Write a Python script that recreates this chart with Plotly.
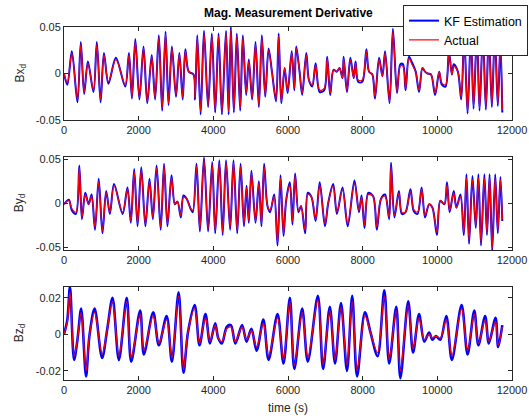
import plotly.graph_objects as go

# ---------------- data ----------------
bx_t = [0, 90, 210, 360, 450, 540, 640, 790, 880, 980,
        1070, 1190, 1390, 1640, 1740, 1820, 1910, 2020, 2130, 2230,
        2350, 2440, 2540, 2630, 2720, 2800, 2890, 3000, 3090, 3180,
        3250, 3340, 3470, 3510, 3570, 3660, 3750, 3860, 3960, 4050,
        4140, 4230, 4340, 4410, 4470, 4550, 4630, 4720, 4790, 4880,
        4950, 5040, 5130, 5220, 5300, 5390, 5480, 5570, 5680, 5750,
        5820, 5910, 5990, 6100, 6170, 6220, 6310, 6380, 6490, 6560,
        6650, 6740, 6850, 6970, 7050, 7130, 7220, 7310, 7380, 7460,
        7490, 7580, 7670, 7760, 7810, 7880, 7990, 8100, 8170, 8260,
        8330, 8440, 8530, 8600, 8720, 8810, 8920, 9010, 9080, 9150,
        9240, 9330, 9420, 9510, 9600, 9670, 9740, 9830, 9940, 10050,
        10120, 10220, 10310, 10390, 10440, 10550, 10640, 10720, 10810, 10900,
        10970, 11060, 11130, 11220, 11300, 11380, 11460, 11540, 11620, 11690,
        11740]
bx_actual = [0.000, -0.010, 0.022, -0.028, 0.031, -0.020, 0.011, -0.018, 0.031, -0.028,
             0.020, -0.009, 0.015, -0.012, 0.020, -0.025, 0.034, -0.026, 0.027, -0.030,
             0.018, -0.026, 0.038, -0.037, 0.042, -0.032, 0.027, -0.023, 0.020, -0.026,
             0.024, 0.002, -0.001, -0.026, 0.038, -0.041, 0.043, -0.034, 0.040, -0.039,
             0.040, -0.041, 0.043, -0.041, 0.047, -0.039, 0.040, -0.037, 0.038, -0.021,
             0.013, -0.026, 0.031, -0.034, 0.038, -0.023, 0.025, 0.002, -0.028, 0.040,
             -0.030, 0.006, -0.019, 0.022, -0.016, 0.027, 0.002, -0.021, 0.020, -0.007,
             -0.012, 0.009, -0.018, -0.016, 0.016, -0.021, 0.004, 0.002, 0.006, -0.005,
             0.016, -0.018, 0.015, -0.005, 0.011, -0.007, -0.007, 0.024, 0.002, -0.001,
             -0.025, 0.015, -0.003, 0.022, -0.030, 0.045, -0.019, 0.008, 0.008, -0.016,
             0.016, 0.009, 0.002, -0.018, 0.006, 0.002, 0.000, -0.001, -0.021, 0.002,
             -0.010, -0.012, 0.022, -0.001, 0.008, 0.002, -0.026, 0.038, -0.040, 0.040,
             -0.035, 0.042, -0.037, 0.040, -0.036, 0.041, -0.033, 0.040, -0.032, 0.030,
             -0.039]
bx_kf = [0.000, -0.012, 0.024, -0.031, 0.034, -0.022, 0.013, -0.020, 0.034, -0.031,
         0.022, -0.011, 0.017, -0.014, 0.022, -0.027, 0.037, -0.028, 0.029, -0.032,
         0.020, -0.028, 0.041, -0.040, 0.045, -0.034, 0.029, -0.025, 0.022, -0.028,
         0.026, 0.002, -0.001, -0.028, 0.041, -0.044, 0.046, -0.036, 0.043, -0.042,
         0.043, -0.044, 0.046, -0.044, 0.050, -0.042, 0.043, -0.040, 0.041, -0.023,
         0.015, -0.028, 0.034, -0.036, 0.041, -0.025, 0.027, 0.002, -0.030, 0.043,
         -0.032, 0.006, -0.021, 0.024, -0.018, 0.029, 0.002, -0.023, 0.022, -0.007,
         -0.014, 0.011, -0.020, -0.018, 0.018, -0.023, 0.004, 0.002, 0.006, -0.005,
         0.018, -0.020, 0.017, -0.005, 0.013, -0.009, -0.009, 0.026, 0.002, -0.001,
         -0.027, 0.017, -0.003, 0.024, -0.032, 0.048, -0.021, 0.010, 0.010, -0.018,
         0.018, 0.011, 0.002, -0.020, 0.006, 0.002, 0.000, -0.001, -0.023, 0.002,
         -0.012, -0.014, 0.024, -0.001, 0.010, 0.002, -0.028, 0.041, -0.043, 0.043,
         -0.038, 0.045, -0.040, 0.043, -0.039, 0.044, -0.036, 0.043, -0.035, 0.033,
         -0.042]

by_t = [0, 130, 210, 320, 410, 480, 570, 660, 740, 830,
        930, 1030, 1130, 1230, 1340, 1570, 1700, 1790, 1880, 1970,
        2070, 2180, 2290, 2380, 2480, 2590, 2680, 2770, 2880, 2970,
        3040, 3130, 3200, 3290, 3380, 3450, 3550, 3640, 3750, 3860,
        3970, 4050, 4160, 4250, 4340, 4450, 4540, 4640, 4730, 4820,
        4890, 4950, 5020, 5130, 5220, 5290, 5360, 5450, 5520, 5630,
        5720, 5800, 5880, 5950, 6050, 6120, 6190, 6280, 6350, 6460,
        6530, 6630, 6740, 6850, 6990, 7080, 7210, 7310, 7460, 7600,
        7780, 7900, 7970, 8050, 8150, 8280, 8380, 8490, 8600, 8710,
        8760, 8850, 8970, 9050, 9150, 9280, 9370, 9470, 9580, 9670,
        9780, 9870, 9990, 10080, 10190, 10260, 10330, 10440, 10510, 10620,
        10710, 10780, 10850, 10940, 11030, 11100, 11170, 11260, 11330, 11400,
        11470, 11550, 11620, 11690, 11740]
by_actual = [-0.001, 0.003, -0.006, -0.010, 0.040, -0.016, 0.010, -0.001, 0.008, -0.027,
             0.025, -0.031, 0.012, -0.010, 0.020, -0.010, 0.016, -0.020, 0.036, -0.023,
             0.038, -0.023, 0.025, -0.016, 0.040, -0.027, 0.042, -0.023, 0.029, -0.001,
             0.002, -0.014, 0.007, 0.005, -0.005, -0.008, 0.042, -0.029, 0.049, -0.029,
             0.044, -0.031, 0.046, -0.033, 0.046, -0.027, 0.046, -0.031, 0.042, -0.023,
             0.018, -0.020, 0.034, -0.020, 0.023, -0.023, 0.042, -0.003, -0.008, 0.008,
             -0.044, 0.029, -0.034, 0.003, 0.021, -0.021, 0.031, -0.008, -0.003, -0.031,
             0.010, 0.007, -0.018, 0.021, -0.023, 0.001, 0.020, -0.010, 0.016, -0.023,
             0.023, -0.008, 0.007, -0.025, 0.010, 0.008, -0.027, 0.005, 0.008, -0.016,
             0.042, -0.014, 0.012, -0.010, -0.010, 0.014, -0.007, -0.010, 0.016, -0.014,
             -0.001, -0.005, -0.033, 0.003, -0.001, 0.021, -0.008, 0.012, -0.005, 0.008,
             -0.033, 0.029, -0.042, 0.027, -0.025, 0.029, -0.044, 0.029, -0.033, 0.029,
             -0.051, 0.029, -0.031, 0.027, -0.018]
by_kf = [-0.001, 0.004, -0.008, -0.012, 0.043, -0.018, 0.012, -0.001, 0.010, -0.030,
         0.028, -0.034, 0.014, -0.012, 0.022, -0.012, 0.018, -0.022, 0.039, -0.026,
         0.041, -0.026, 0.028, -0.018, 0.043, -0.030, 0.045, -0.026, 0.032, -0.001,
         0.002, -0.016, 0.009, 0.005, -0.005, -0.010, 0.045, -0.032, 0.052, -0.032,
         0.047, -0.034, 0.049, -0.036, 0.049, -0.030, 0.049, -0.034, 0.045, -0.026,
         0.020, -0.022, 0.037, -0.022, 0.025, -0.026, 0.045, -0.003, -0.010, 0.010,
         -0.048, 0.032, -0.037, 0.003, 0.024, -0.024, 0.034, -0.010, -0.003, -0.034,
         0.012, 0.007, -0.020, 0.024, -0.026, 0.001, 0.022, -0.012, 0.018, -0.026,
         0.026, -0.010, 0.009, -0.028, 0.012, 0.008, -0.030, 0.005, 0.010, -0.018,
         0.046, -0.016, 0.014, -0.012, -0.010, 0.016, -0.009, -0.012, 0.018, -0.016,
         -0.001, -0.005, -0.036, 0.003, -0.001, 0.024, -0.010, 0.014, -0.005, 0.010,
         -0.036, 0.033, -0.046, 0.031, -0.028, 0.033, -0.048, 0.033, -0.036, 0.033,
         -0.054, 0.033, -0.034, 0.030, -0.020]

bz_t = [0, 90, 160, 270, 360, 460, 590, 680, 820, 1020,
        1160, 1300, 1470, 1680, 1800, 2040, 2140, 2390, 2540, 2750,
        2890, 3070, 3200, 3320, 3500, 3630, 3790, 3910, 4050, 4130,
        4230, 4360, 4470, 4590, 4770, 4890, 5020, 5160, 5340, 5480,
        5720, 5880, 6050, 6170, 6380, 6530, 6800, 6940, 7120, 7260,
        7420, 7580, 7720, 7850, 8060, 8210, 8400, 8580, 8710, 8900,
        9010, 9220, 9350, 9510, 9650, 9780, 9870, 9960, 10080, 10240,
        10390, 10650, 10810, 10990, 11100, 11280, 11380, 11560, 11630, 11740]
bz_actual = [0.000, 0.007, 0.023, -0.012, -0.003, 0.012, -0.020, -0.001, 0.012, -0.011,
             0.003, 0.018, -0.012, 0.018, -0.013, 0.011, -0.009, 0.010, -0.005, 0.008,
             -0.013, 0.021, -0.019, 0.001, 0.014, -0.005, 0.009, -0.004, 0.005, -0.002,
             -0.004, 0.003, 0.004, -0.004, 0.004, -0.003, 0.002, -0.007, 0.006, -0.012,
             0.009, -0.014, 0.018, -0.017, 0.012, -0.013, 0.019, -0.017, 0.013, -0.014,
             0.015, -0.017, 0.018, -0.020, 0.010, 0.001, -0.010, 0.021, -0.014, 0.013,
             -0.020, 0.016, -0.008, 0.009, -0.003, 0.000, -0.002, -0.001, -0.002, 0.008,
             -0.012, 0.014, -0.009, 0.011, -0.005, 0.008, -0.004, 0.007, -0.006, 0.004]
bz_kf = [0.000, 0.008, 0.026, -0.014, -0.003, 0.014, -0.023, -0.001, 0.014, -0.013,
         0.003, 0.020, -0.014, 0.020, -0.015, 0.013, -0.011, 0.012, -0.006, 0.010,
         -0.015, 0.023, -0.021, 0.001, 0.016, -0.006, 0.011, -0.005, 0.006, -0.002,
         -0.005, 0.004, 0.005, -0.005, 0.005, -0.004, 0.003, -0.009, 0.008, -0.014,
         0.011, -0.016, 0.020, -0.019, 0.014, -0.015, 0.021, -0.019, 0.015, -0.016,
         0.017, -0.020, 0.021, -0.023, 0.012, 0.001, -0.012, 0.024, -0.016, 0.015,
         -0.024, 0.018, -0.010, 0.011, -0.004, 0.001, -0.003, -0.001, -0.003, 0.010,
         -0.014, 0.016, -0.011, 0.013, -0.006, 0.010, -0.005, 0.009, -0.007, 0.005]

x_ticks = [0, 2000, 4000, 6000, 8000, 10000, 12000]
y_labels = ["Bx<sub>d</sub>", "By<sub>d</sub>", "Bz<sub>d</sub>"]
title_text = "Mag. Measurement Derivative"
legend_names = ["KF Estimation", "Actual"]

assert len(bx_t) == len(bx_actual) == len(bx_kf)
assert len(by_t) == len(by_actual) == len(by_kf)
assert len(bz_t) == len(bz_actual) == len(bz_kf)

# ---------------- figure ----------------
W, H = 529, 419
PL, PR, PT, PB = 64, 512, 27, 380      # plot area in window pixels
ML, MR, MT, MB = PL, W - PR, PT, H - PB
PW, PH = PR - PL, PB - PT

def py(px):  # window pixel y -> paper fraction
    return (PB - px) / PH

def pxf(px):  # window pixel x -> paper fraction
    return (px - PL) / PW

FONT = "Liberation Sans, Arial"
fig = go.Figure()
series = [(bx_t, bx_kf, bx_actual, "y"), (by_t, by_kf, by_actual, "y2"), (bz_t, bz_kf, bz_actual, "y3")]
xa = ["x", "x2", "x3"]
for i, (t, kf, act, ya) in enumerate(series):
    fig.add_trace(go.Scatter(x=t, y=kf, mode="lines", name=legend_names[0],
                             line=dict(color="rgb(0,0,255)", width=2.0 if i < 2 else 2.6,
                                       shape="spline", smoothing=0.9),
                             xaxis=xa[i], yaxis=ya, showlegend=(i == 0), legendrank=1))
    fig.add_trace(go.Scatter(x=t, y=act, mode="lines", name=legend_names[1],
                             line=dict(color="rgb(255,0,0)", width=1.2,
                                       shape="spline", smoothing=0.9),
                             xaxis=xa[i], yaxis=ya, showlegend=(i == 0), legendrank=2))

axis_common = dict(showline=True, mirror="ticks", linecolor="#262626", linewidth=1,
                   ticks="inside", ticklen=4, tickcolor="#262626", tickwidth=1,
                   showgrid=False, zeroline=False,
                   tickfont=dict(family=FONT, size=11, color="#262626"))

doms = [(py(120), py(27)), (py(250), py(156.7)), (0.0, py(286.7))]
yranges = [[-0.05, 0.05], [-0.053, 0.053], [-0.025, 0.026]]
ytickv = [[-0.05, 0, 0.05], [-0.05, 0, 0.05], [-0.02, 0, 0.02]]
ytickt = [["-0.05", "0", "0.05"], ["-0.05", "0", "0.05"], ["-0.02", "0", "0.02"]]

layout = dict(width=W, height=H, margin=dict(l=ML, r=MR, t=MT, b=MB, autoexpand=False),
              paper_bgcolor="white", plot_bgcolor="white", showlegend=True,
              font=dict(family=FONT, color="#262626"))
for i in range(3):
    xk = "xaxis" if i == 0 else f"xaxis{i+1}"
    yk = "yaxis" if i == 0 else f"yaxis{i+1}"
    layout[xk] = dict(axis_common, domain=[0, 1], range=[0, 12000], tickvals=x_ticks,
                      ticktext=[str(v) for v in x_ticks], anchor=("y" if i == 0 else f"y{i+1}"),
                      automargin=False)
    layout[yk] = dict(axis_common, domain=list(doms[i]), range=yranges[i], tickvals=ytickv[i],
                      ticktext=ytickt[i], anchor=("x" if i == 0 else f"x{i+1}"),
                      automargin=False)
fig.update_layout(**layout)

fig.update_layout(legend=dict(x=pxf(528), y=py(5), xanchor="right", yanchor="top",
                              bgcolor="white", bordercolor="#262626", borderwidth=1,
                              font=dict(family=FONT, size=12.5, color="black"),
                              tracegroupgap=0, itemwidth=30))

annotations = [dict(text="<b>" + title_text + "</b>", x=0.5, y=py(13), xref="paper", yref="paper",
                    showarrow=False, xanchor="center", yanchor="middle",
                    font=dict(family=FONT, size=12, color="black")),
               dict(text="time (s)", x=0.5, y=py(408), xref="paper", yref="paper",
                    showarrow=False, xanchor="center", yanchor="middle",
                    font=dict(family=FONT, size=12, color="#262626"))]
centers = [73.5, 203.3, 333.3]
for lab, c in zip(y_labels, centers):
    annotations.append(dict(text=lab, x=pxf(20), y=py(c), xref="paper", yref="paper",
                            showarrow=False, xanchor="center", yanchor="middle", textangle=-90,
                            font=dict(family=FONT, size=12, color="#262626")))
fig.update_layout(annotations=annotations)

# remove the default 8px page margin so the figure fills the window exactly
fig.write_html("out.html", config={"displayModeBar": False},
               post_script="document.body.style.margin='0';document.body.style.overflow='hidden';")
